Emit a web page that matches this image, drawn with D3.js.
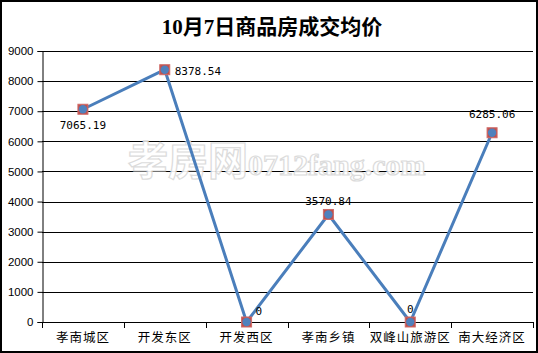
<!DOCTYPE html>
<html>
<head>
<meta charset="utf-8">
<script src="https://cdn.jsdelivr.net/npm/d3@7"></script>
<style>
  body { margin: 0; background: #fff; }
  svg { display: block; }
</style>
</head>
<body>
<div id="chart"></div>
<script>
const categories = ["孝南城区", "开发东区", "开发西区", "孝南乡镇", "双峰山旅游区", "南大经济区"]
const prices = [7065.19, 8378.54, 0, 3570.84, 0, 6285.06]
const priceLabels = ["7065.19", "8378.54", "0", "3570.84", "0", "6285.06"]
const yTicks = [0, 1000, 2000, 3000, 4000, 5000, 6000, 7000, 8000, 9000]

const width = 538, height = 353
const margin = {top: 51, right: 5, bottom: 31, left: 42}

const svg = d3.select("#chart").append("svg")
  .attr("width", width).attr("height", height)

// outer frame
svg.append("rect")
  .attr("x", 1).attr("y", 1).attr("width", width - 2).attr("height", height - 2)
  .attr("fill", "#fff").attr("stroke", "#000").attr("stroke-width", 2)

svg.append("text")
  .attr("x", width / 2 + 3).attr("y", 34)
  .attr("text-anchor", "middle")
  .attr("font-family", "'Liberation Serif', 'Noto Sans CJK SC', serif")
  .attr("font-weight", "bold").attr("font-size", 21)
  .text("10月7日商品房成交均价")

let x = d3.scaleBand()
  .domain(categories)
  .range([margin.left, width - margin.right])

let y = d3.scaleLinear()
  .domain([0, 9000])
  .range([height - margin.bottom, margin.top])

// gridlines
svg.append("g")
  .selectAll("line")
  .data(yTicks)
  .join("line")
  .attr("x1", margin.left).attr("x2", width - margin.right)
  .attr("y1", d => Math.round(y(d)) + 0.5).attr("y2", d => Math.round(y(d)) + 0.5)
  .attr("stroke", "#000").attr("stroke-width", 1)

// watermark
const wm = svg.append("text")
  .attr("x", 128).attr("y", 175)
  .attr("fill", "#fff").attr("stroke", "#d8d8d8").attr("stroke-width", 1.2)
  .attr("opacity", 0.9)
wm.append("tspan").attr("font-family", "'Noto Sans CJK SC', sans-serif")
  .attr("font-size", 40).attr("font-weight", "bold").text("孝房网")
wm.append("tspan").attr("font-family", "'Liberation Serif', serif")
  .attr("font-size", 30).attr("font-weight", "bold").text("0712fang.com")

let yAxis = g => g
  .attr("transform", `translate(${margin.left + 0.5},0)`)
  .call(d3.axisLeft(y).tickValues(yTicks).tickSize(5).tickPadding(4).tickFormat(d3.format("d")))
  .call(g => g.selectAll("text").attr("font-family", "'Liberation Sans', Arial, sans-serif").attr("font-size", 11.5).attr("fill", "#000"))

let xAxis = g => g
  .attr("transform", `translate(0,${Math.round(y(0)) + 0.5})`)
  .call(d3.axisBottom(x).tickSize(0).tickPadding(11))
  .call(g => g.selectAll(".domain").remove())
  .call(g => g.selectAll("text").attr("font-family", "'Noto Sans CJK SC', sans-serif").attr("font-size", 12.5).attr("letter-spacing", 1).attr("fill", "#000"))

svg.append("g").call(yAxis)
svg.append("g").call(xAxis)

// category boundary ticks
svg.append("g")
  .selectAll("line")
  .data(categories.map(c => x(c)).concat([x(categories[categories.length - 1]) + x.bandwidth()]))
  .join("line")
  .attr("x1", d => Math.round(d) + 0.5).attr("x2", d => Math.round(d) + 0.5)
  .attr("y1", Math.round(y(0))).attr("y2", Math.round(y(0)) + 6)
  .attr("stroke", "#000")

const cx = d => x(d) + x.bandwidth() / 2

svg.append("path")
  .datum(categories)
  .attr("fill", "none")
  .attr("stroke", "#4a7ebb").attr("stroke-width", 3)
  .attr("stroke-linejoin", "round")
  .attr("d", d3.line().x(d => cx(d)).y((d, i) => y(prices[i])))

const pts = svg.append("g").selectAll("g")
  .data(categories)
  .join("g")
  .attr("transform", (d, i) => `translate(${cx(d)},${y(prices[i])})`)

pts.append("rect")
  .attr("x", -5).attr("y", -5).attr("width", 10).attr("height", 10)
  .attr("fill", "#c0504d").attr("stroke", "#d06b68").attr("stroke-width", 1)
pts.append("path")
  .attr("d", d3.symbol(d3.symbolCircle, 55)())
  .attr("fill", "#4f81bd")

// data labels
const labelPos = [[0, 20, "middle"], [10, 5, "start"], [9, -7, "start"], [0, -9, "middle"], [0, -9, "middle"], [0, -15, "middle"]]
svg.append("g").selectAll("text")
  .data(categories)
  .join("text")
  .attr("x", (d, i) => cx(d) + labelPos[i][0])
  .attr("y", (d, i) => y(prices[i]) + labelPos[i][1])
  .attr("text-anchor", (d, i) => labelPos[i][2])
  .attr("font-family", "'DejaVu Sans Mono', monospace")
  .attr("font-size", 11).attr("fill", "#000")
  .text((d, i) => priceLabels[i])
</script>
</body>
</html>
